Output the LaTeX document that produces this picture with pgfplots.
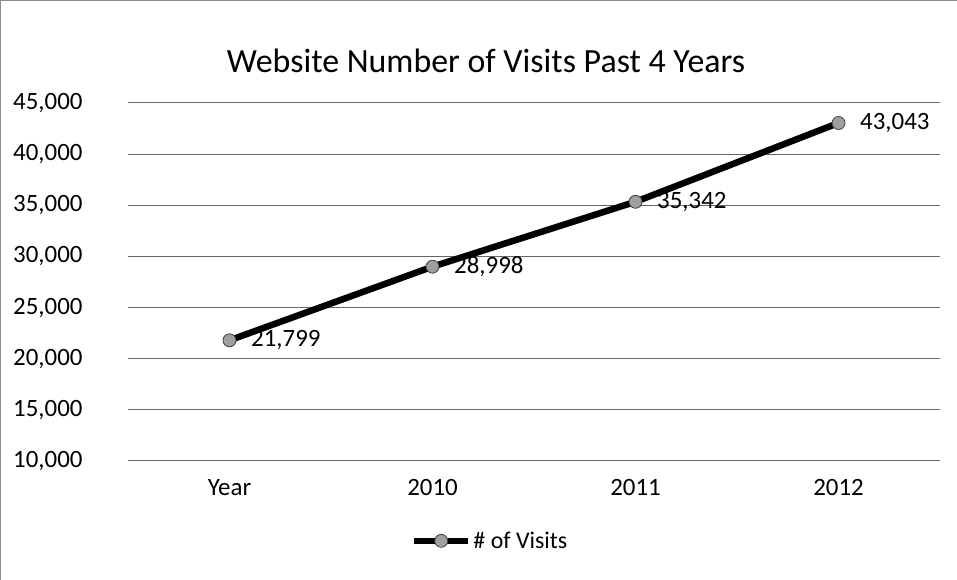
\documentclass[border=0pt]{standalone}
\usepackage{fontspec}
\setmainfont{Carlito}
\usepackage{pgfplots}
\pgfplotsset{compat=1.18}
\begin{document}
\begin{tikzpicture}[x=1bp,y=1bp]
\path[use as bounding box] (0,0) rectangle (957,580);
\draw[black!45, line width=1.2bp] (0.6,0) -- (0.6,579.4) -- (957,579.4);
\node[font=\fontsize{34}{40}\selectfont] at (486,519) {Website Number of Visits Past 4 Years};
\begin{axis}[
  at={(128bp,119bp)}, anchor=south west, scale only axis,
  width=812bp, height=358bp,
  xmin=-0.5, xmax=3.5, ymin=10000, ymax=45000,
  ytick={10000,15000,20000,25000,30000,35000,40000,45000},
  xtick={0,1,2,3}, xticklabels={Year,2010,2011,2012},
  scaled y ticks=false,
  axis line style={draw=none}, major tick length=0pt,
  ymajorgrids, grid style={black!60, line width=1bp},
  ticklabel style={font=\fontsize{25}{30}\selectfont},
  /pgf/number format/assume math mode=true,
  yticklabel style={/pgf/number format/fixed, /pgf/number format/1000 sep={,}, xshift=-42bp},
  xticklabel style={yshift=-15bp},
  legend style={at={(0.446,-0.223)}, anchor=center, draw=none, fill=none,
    font=\fontsize{24}{29}\selectfont},
  legend image code/.code={\draw[mark repeat=2,mark phase=2,#1] plot coordinates {(0bp,0bp) (27bp,0bp) (54bp,0bp)};},
  nodes near coords={\pgfmathprintnumber[fixed,1000 sep={,},assume math mode=true]{\pgfplotspointmeta}},
  nodes near coords style={anchor=west, xshift=18bp, font=\fontsize{25}{30}\selectfont, text=black},
]
\addplot[black, line width=6.5bp, mark=*, mark size=6.5bp,
  mark options={solid, fill=gray!75, draw=gray!50!black, line width=0.8bp}]
  coordinates {(0,21799) (1,28998) (2,35342) (3,43043)};
\addlegendentry{\# of Visits}
\end{axis}
\end{tikzpicture}
\end{document}
